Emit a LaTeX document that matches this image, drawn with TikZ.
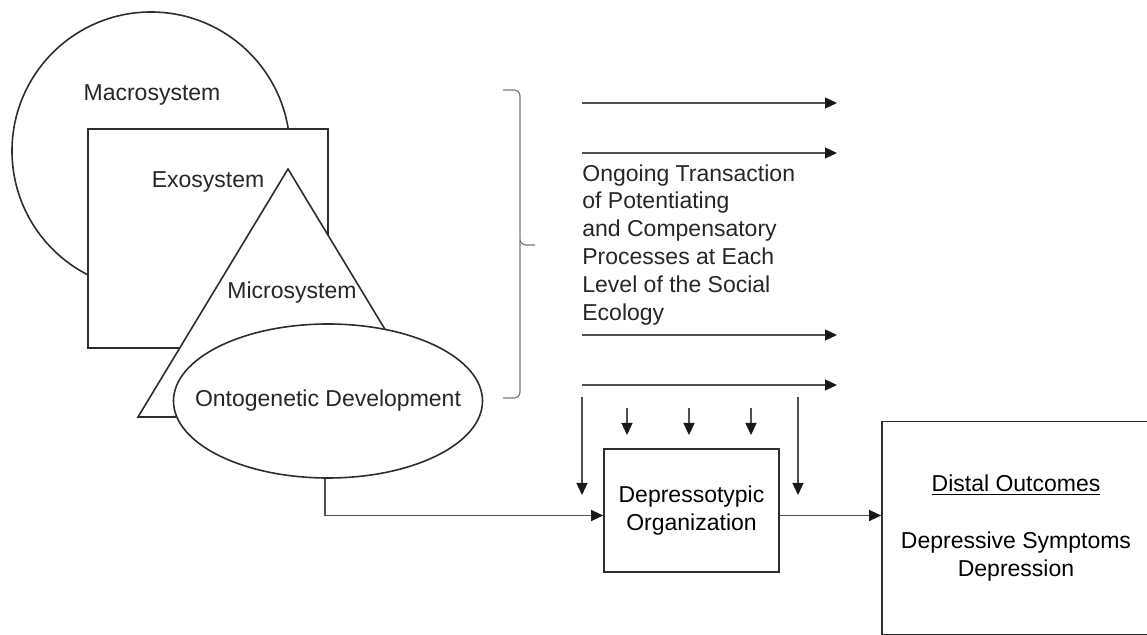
\documentclass[tikz,border=0pt]{standalone}
\usepackage{fontspec}
\setmainfont{Liberation Sans}
\usepackage{xcolor}
\usetikzlibrary{shapes.geometric, arrows.meta, positioning}
\definecolor{linegray}{RGB}{45, 45, 45}
\definecolor{arrowgray}{RGB}{80, 80, 80}
\definecolor{bracegray}{RGB}{120, 120, 120}

\begin{document}
\begin{tikzpicture}[x=0.5pt, y=-0.5pt, font=\fontsize{11.5}{13.9}\selectfont]
    \tikzstyle{sysshape} = [draw=linegray, line width=0.8pt, fill=white, inner sep=0pt]
    \tikzstyle{box}   = [rectangle, draw=linegray, line width=0.85pt, align=center, inner sep=0pt]
    \tikzstyle{arr}   = [-{Triangle[length=6pt, width=5.5pt, color=black!90]}, line width=0.65pt, color=arrowgray]
    \tikzstyle{lbl}   = [inner sep=0pt, text=black!85]

    \useasboundingbox (0,0) rectangle (1147,635);

    %% ── Nested systems (back to front) ─────────────────────────────────────
    \node[sysshape, circle, minimum size=139pt]               (macro) at (151,151) {};
    \node[sysshape, rectangle, minimum width=120pt, minimum height=109.5pt] (exo) at (208,238.5) {};
    \coordinate (apex) at (288,169);
    \coordinate (tl)   at (138,417);
    \coordinate (tr)   at (438,417);
    \draw[sysshape] (apex) -- (tl) -- (tr) -- cycle;
    \node[sysshape, ellipse, minimum width=154.5pt, minimum height=77pt] (onto) at (328,401) {};

    \node[lbl] (macrolbl) at (152,95)  {Macrosystem};
    \node[lbl] (exolbl)   at (208,182) {Exosystem};
    \node[lbl] (microlbl) at (292,293) {Microsystem};
    \node[lbl] (ontolbl)  at (onto)    {Ontogenetic Development};

    %% ── Brace ──────────────────────────────────────────────────────────────
    \draw[bracegray, line width=0.6pt, rounded corners=3pt]
      (503,90) -| (520,245) -- (535,245);
    \draw[bracegray, line width=0.6pt, rounded corners=3pt]
      (520,240) |- (503,398);

    %% ── Transaction arrows ─────────────────────────────────────────────────
    \foreach \y [count=\i] in {103,153,335,385} {
      \coordinate (t\i) at (582,\y);
      \coordinate (h\i) at (837,\y);
      \draw[arr] (t\i) -- (h\i);
    }
    \node[lbl, anchor=north west, align=left] (trans) at (582,164)
      {Ongoing Transaction\\of Potentiating\\and Compensatory\\Processes at Each\\Level of the Social\\Ecology};

    %% ── Outcome boxes ──────────────────────────────────────────────────────
    \node[box, minimum width=87.5pt, minimum height=61.5pt] (depr) at (691.5,510.5)
      {Depressotypic\\Organization};
    \node[box, minimum width=134pt, minimum height=106.5pt] (distal) at (1016,528)
      {\underline{Distal Outcomes}\\[14.5pt]Depressive Symptoms\\Depression};

    %% ── Arrows into the organization ───────────────────────────────────────
    \foreach \x/\ya/\yb [count=\i] in {582/397/495, 798/397/495, 627/408/435, 689/408/435, 751/408/435} {
      \coordinate (vs\i) at (\x,\ya);
      \coordinate (ve\i) at (\x,\yb);
      \draw[arr] (vs\i) -- (ve\i);
    }

    %% ── Development → organization → outcomes ──────────────────────────────
    \draw[arr] ([xshift=-1.5pt]onto.south) |- ([yshift=-2.5pt]depr.west);
    \draw[arr] ([yshift=-2.5pt]depr.east) -- ([yshift=-2.5pt]depr.east -| distal.west);
  \end{tikzpicture}
\end{document}
